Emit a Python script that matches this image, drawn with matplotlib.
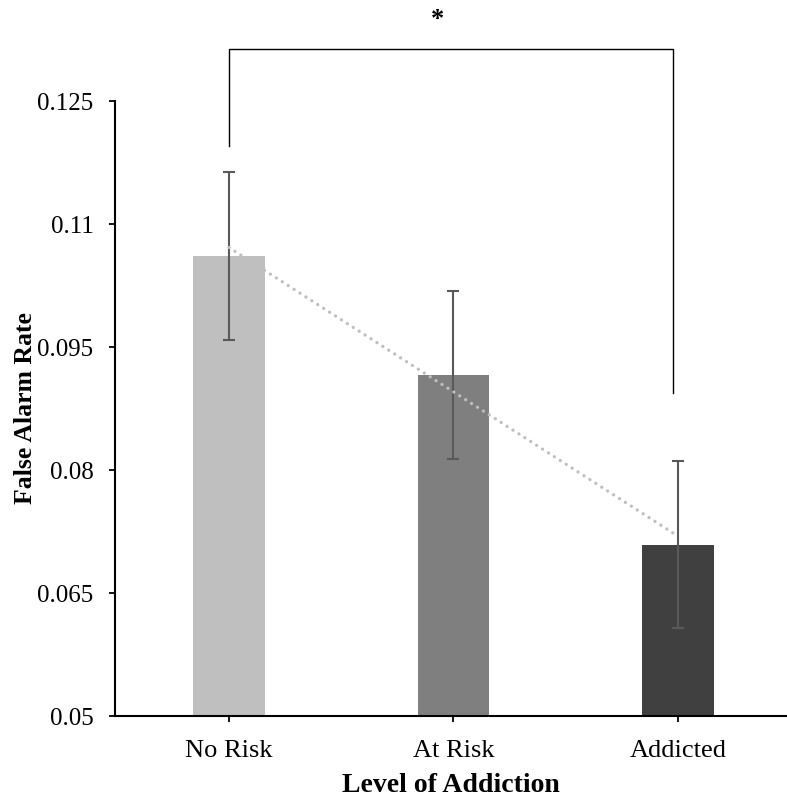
import numpy as np
import matplotlib
matplotlib.use("Agg")
import matplotlib.pyplot as plt

# datos
categorias = ["No Risk", "At Risk", "Addicted"]
medias = [0.1061, 0.0916, 0.0709]
errores = [0.0102, 0.0102, 0.0102]
colores = ["#BFBFBF", "#7F7F7F", "#404040"]
yticks = [0.05, 0.065, 0.08, 0.095, 0.11, 0.125]
ytick_labels = ["0.05", "0.065", "0.08", "0.095", "0.11", "0.125"]

# corchete de significancia (alturas en unidades del eje y)
sig_top = 0.1313
sig_left_end = 0.1195
sig_right_end = 0.0894
sig_star_y = 0.1350

plt.rcParams["font.family"] = ["Liberation Serif", "DejaVu Serif"]

fig = plt.figure(figsize=(7.87, 8.01), dpi=100)
ax = fig.add_axes([0.1461, 0.1061, 0.8539, 0.7678])

x = np.arange(1, len(categorias) + 1)
ax.bar(x, medias, width=0.32, color=colores, zorder=2)
ax.errorbar(x, medias, yerr=errores, fmt="none", ecolor="#595959",
            elinewidth=1.5, capsize=4.3, capthick=1.5, zorder=3)

# linea de tendencia
b, a = np.polyfit(x, medias, 1)
ax.plot(x, a + b * x, linestyle=(0, (0.01, 2.1)), color="#BFBFBF",
        linewidth=2.4, dash_capstyle="round", zorder=4)

# corchete
ax.plot([x[0], x[0], x[2] - 0.02, x[2] - 0.02],
        [sig_left_end, sig_top, sig_top, sig_right_end],
        color="black", linewidth=1.0, clip_on=False)
ax.text(1.93, sig_star_y, "*", ha="center", va="center", fontsize=19,
        fontweight="bold")

ax.set_xlim(0.492, 3.486)
ax.set_ylim(0.05, 0.125)
ax.set_xticks(x)
ax.set_xticklabels(categorias, fontsize=19)
ax.set_yticks(yticks)
ax.set_yticklabels(ytick_labels, fontsize=18)
ax.tick_params(axis="y", direction="out", length=4.5, width=1.3, pad=11)
ax.tick_params(axis="x", direction="out", length=4, width=1.3, pad=13)

for s in ["top", "right"]:
    ax.spines[s].set_visible(False)
for s in ["left", "bottom"]:
    ax.spines[s].set_linewidth(1.5)

ax.set_xlabel("Level of Addiction", fontsize=20, fontweight="bold", labelpad=8)
ax.set_ylabel("False Alarm Rate", fontsize=18.5, fontweight="bold", labelpad=0)

fig.savefig("out.png", dpi=100)
